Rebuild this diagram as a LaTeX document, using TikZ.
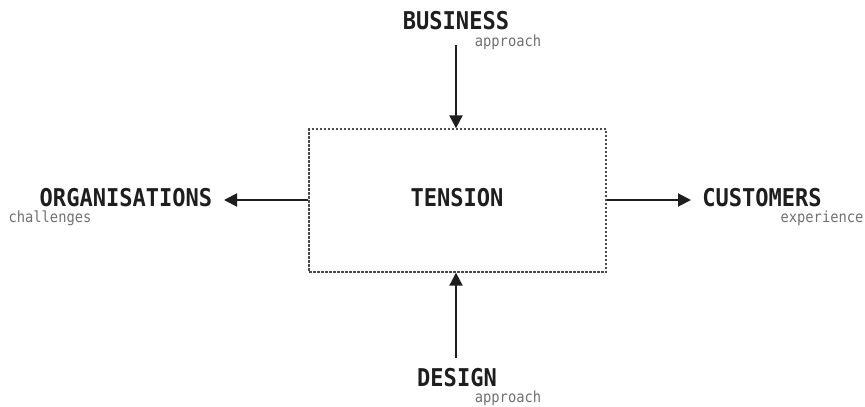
\documentclass[tikz,border=0pt]{standalone}
\usepackage{fontspec}
\newfontfamily\labfont[FakeStretch=0.9,BoldFont={DejaVu Sans Mono Bold}]{DejaVu Sans Mono}
\usetikzlibrary{arrows.meta}
\definecolor{subgray}{HTML}{707070}
\definecolor{ink}{HTML}{1E1E1E}
\begin{document}
\begin{tikzpicture}[x=1pt,y=-1pt,
  big/.style={inner sep=0pt, text=ink, font=\labfont\bfseries\fontsize{24.5}{25}\selectfont},
  small/.style={inner sep=0pt, text=subgray, font=\labfont\fontsize{15.3}{15}\selectfont},
  conn/.style={line width=2pt, draw=ink, -{Triangle[length=13pt,width=13pt]}},
  tbox/.style={draw=ink!80, dashed, dash pattern=on 2.5pt off 1.5pt, line width=1.3pt, minimum width=297pt, minimum height=143pt, inner sep=0pt}
]
\useasboundingbox (0,0) rectangle (865,407);
\node[tbox] (box) at (457.5,200.5) {};
\node[big] (tension) at (457,198) {TENSION};
\node[big] (business) at (456,21) {BUSINESS};
\node[small] (bapp) at (508,42) {approach};
\node[big] (org) at (126,198) {ORGANISATIONS};
\node[small] (chal) at (50,218) {challenges};
\node[big] (cust) at (762,198) {CUSTOMERS};
\node[small] (exp) at (822,218) {experience};
\node[big] (design) at (457,378) {DESIGN};
\node[small] (dapp) at (508,398) {approach};
\coordinate (btop) at (456,45);
\coordinate (dbot) at (456,358);
\coordinate (otip) at (224,200);
\coordinate (ctip) at (691,200);
\draw[conn] (btop) -- (btop |- box.north);
\draw[conn] (dbot) -- (dbot |- box.south);
\draw[conn] (box.west |- otip) -- (otip);
\draw[conn] (box.east |- ctip) -- (ctip);
\end{tikzpicture}
\end{document}
